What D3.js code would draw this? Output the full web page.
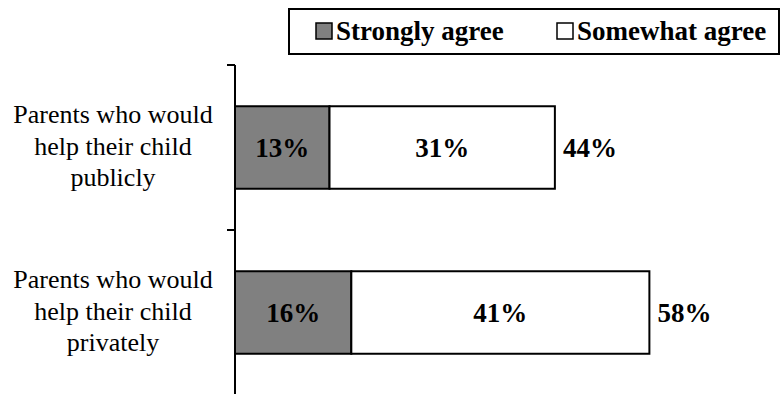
<!DOCTYPE html>
<html>
<head>
<meta charset="utf-8">
<script src="https://cdn.jsdelivr.net/npm/d3@7"></script>
<style>
  body { margin: 0; background: #fff; }
  svg { display: block; font-family: "Liberation Serif", "Times New Roman", serif; }
</style>
</head>
<body>
<svg id="chart" width="781" height="394"></svg>
<script>
// data
const categories = [
  ["Parents who would", "help their child", "publicly"],
  ["Parents who would", "help their child", "privately"]
];
const seriesNames = ["Strongly agree", "Somewhat agree"];
const strongly = [13, 16];
const somewhat = [31, 41];
const totals = ["44%", "58%"];
const colors = ["#808080", "#ffffff"];

const svg = d3.select("#chart");

const x = d3.scaleLinear().domain([0, 100]).range([235, 962]);
const y = d3.scaleBand().domain(d3.range(categories.length)).range([65, 395]).paddingInner(0.5).paddingOuter(0.25);

// y axis line + ticks at band boundaries
const g = svg.append("g");
g.append("line")
  .attr("x1", 235).attr("x2", 235)
  .attr("y1", 65).attr("y2", 395)
  .attr("stroke", "#000").attr("stroke-width", 2);

const boundaries = [65, 230];
g.selectAll(".tick")
  .data(boundaries)
  .enter()
  .append("line")
  .attr("x1", 227).attr("x2", 235)
  .attr("y1", d => d).attr("y2", d => d)
  .attr("stroke", "#000").attr("stroke-width", 2);

// stacked bars
const stack = categories.map((c, i) => [
  { x0: 0, x1: strongly[i], v: strongly[i], s: 0 },
  { x0: strongly[i], x1: strongly[i] + somewhat[i], v: somewhat[i], s: 1 }
]);

const row = svg.selectAll(".row")
  .data(stack)
  .enter()
  .append("g")
  .attr("class", "row")
  .attr("transform", (d, i) => `translate(0,${y(i)})`);

row.selectAll("rect")
  .data(d => d)
  .enter()
  .append("rect")
  .attr("x", d => x(d.x0))
  .attr("width", d => x(d.x1) - x(d.x0))
  .attr("y", 0)
  .attr("height", y.bandwidth())
  .attr("fill", d => colors[d.s])
  .attr("stroke", "#000")
  .attr("stroke-width", 2);

row.selectAll(".val")
  .data(d => d)
  .enter()
  .append("text")
  .attr("class", "val")
  .attr("x", d => (x(d.x0) + x(d.x1)) / 2)
  .attr("y", y.bandwidth() / 2 + 9)
  .attr("text-anchor", "middle")
  .style("font-weight", "bold")
  .style("font-size", "27px")
  .text(d => d.v + "%");

// totals to the right of the bars
row.append("text")
  .attr("x", (d, i) => x(strongly[i] + somewhat[i]) + 8)
  .attr("y", y.bandwidth() / 2 + 9)
  .style("font-weight", "bold")
  .style("font-size", "27px")
  .text((d, i) => totals[i]);

// category labels
const cat = svg.selectAll(".cat")
  .data(categories)
  .enter()
  .append("text")
  .attr("class", "cat")
  .attr("text-anchor", "middle")
  .style("font-size", "26px");

cat.selectAll("tspan")
  .data((d, i) => d.map((t, k) => ({ t, k, i })))
  .enter()
  .append("tspan")
  .attr("x", 113)
  .attr("y", d => y(d.i) + y.bandwidth() / 2 + 7 + (d.k - 1) * 31.5)
  .text(d => d.t);

// legend
const leg = svg.append("g");
leg.append("rect")
  .attr("x", 289).attr("y", 9)
  .attr("width", 490).attr("height", 45)
  .attr("fill", "#fff")
  .attr("stroke", "#000").attr("stroke-width", 2);

const legX = [316, 557];
const item = leg.selectAll(".item")
  .data(seriesNames)
  .enter()
  .append("g")
  .attr("transform", (d, i) => `translate(${legX[i]},23)`);

item.append("rect")
  .attr("width", 16).attr("height", 16)
  .attr("fill", (d, i) => colors[i])
  .attr("stroke", "#000").attr("stroke-width", 1.5);

item.append("text")
  .attr("x", 20).attr("y", 17)
  .style("font-weight", "bold")
  .style("font-size", "27px")
  .text(d => d);
</script>
</body>
</html>
